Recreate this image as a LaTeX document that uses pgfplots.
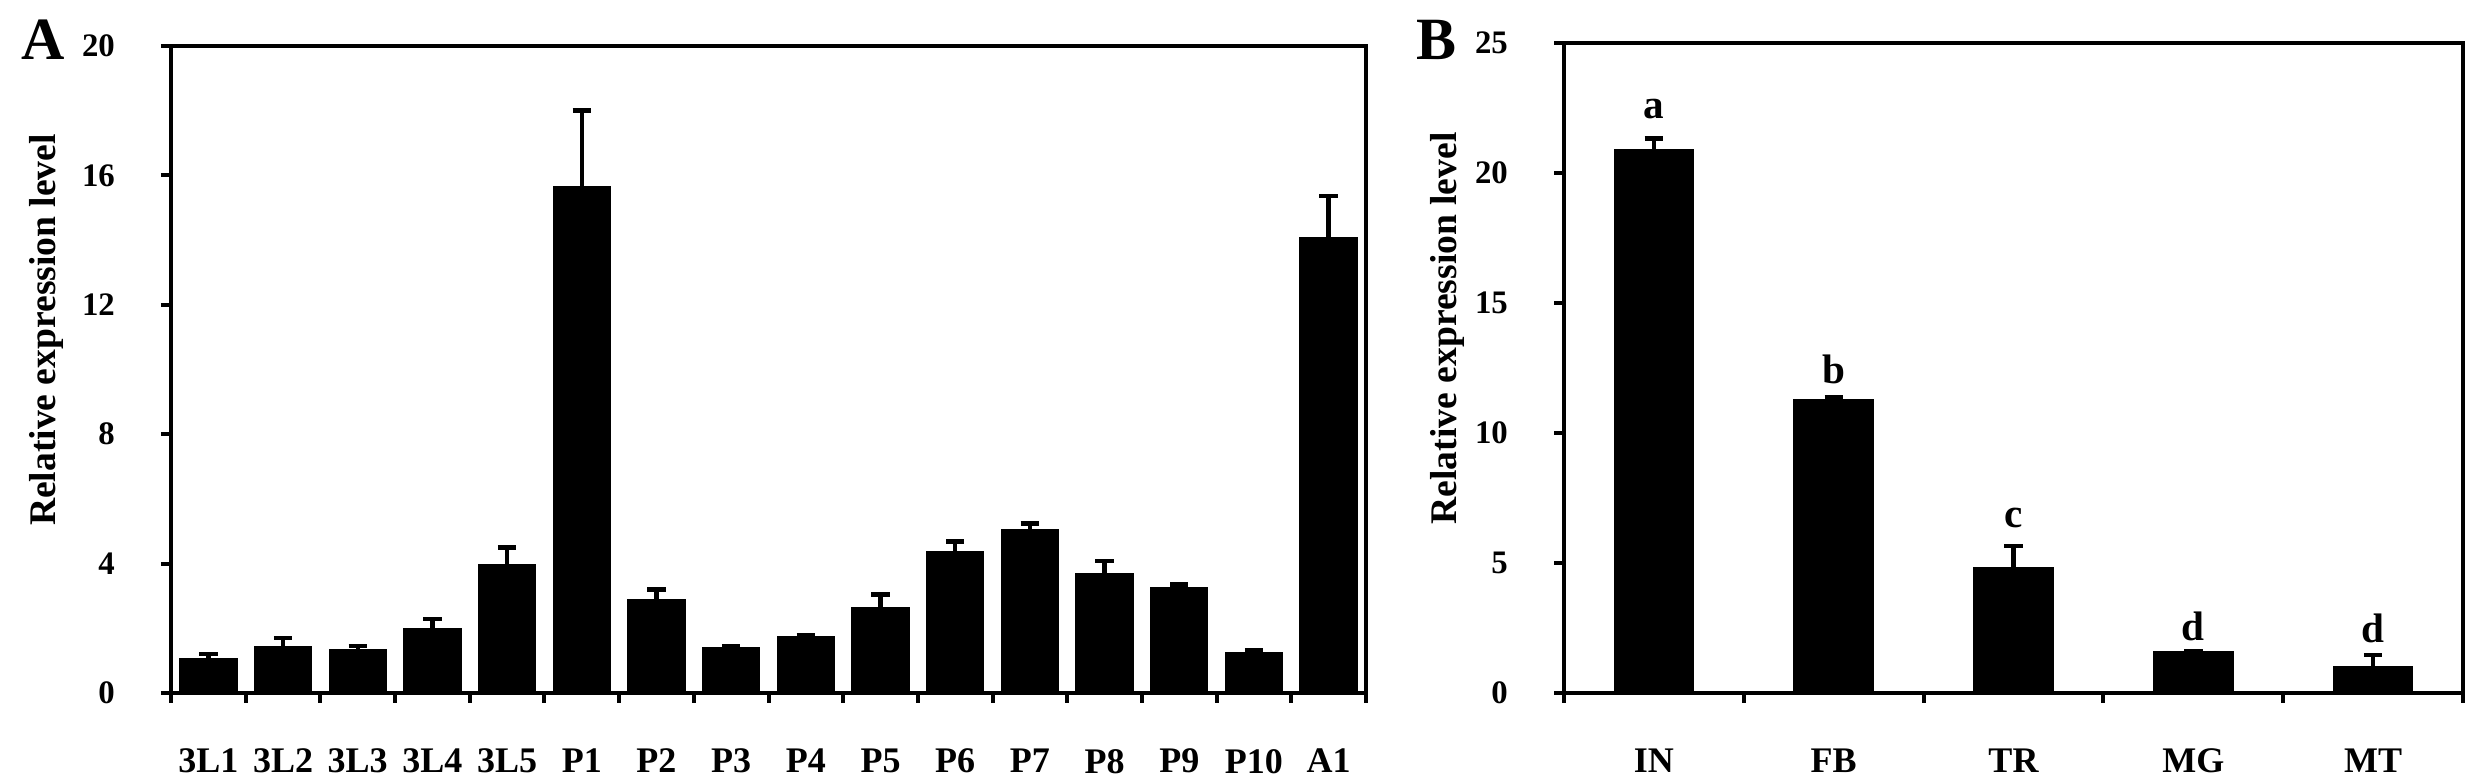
\documentclass[border=0pt]{standalone}
\usepackage{fontspec}
\setmainfont{Liberation Serif}
\usepackage{pgfplots}
\pgfplotsset{compat=1.18}

\pgfplotstableread{
x y e
0 1.05 0.15
1 1.42 0.28
2 1.33 0.12
3 1.97 0.31
4 3.96 0.54
5 15.64 2.36
6 2.88 0.32
7 1.40 0.06
8 1.74 0.05
9 2.63 0.41
10 4.36 0.32
11 5.04 0.20
12 3.70 0.38
13 3.24 0.12
14 1.25 0.06
15 14.08 1.28
}\dataA

\pgfplotstableread{
x y e
0 20.88 0.45
1 11.29 0.08
2 4.80 0.86
3 1.59 0.0
4 1.01 0.45
}\dataB

\pgfplotsset{
 myaxis/.style={
  scale only axis,
  axis line style={line width=1pt},
  tick align=outside,
  tick pos=left,
  major tick length=2.5pt,
  minor tick length=2.5pt,
  tick style={line width=1pt, black},
  major x tick style={draw=none},
  /pgf/number format/assume math mode=true,
  yticklabel style={font=\fontsize{8.2}{9}\selectfont\bfseries, xshift=-8pt},
  xticklabel style={font=\fontsize{9}{10}\selectfont\bfseries, yshift=-8pt},
  ylabel={Relative expression level},
  ymin=0,
  xmin=-0.5,
  clip=false,
 },
 mybar/.style={ybar, fill=black, draw=black, bar width=#1,
   error bars/.cd, y dir=plus, y explicit,
   error bar style={line width=1.1pt, black},
   error mark options={rotate=90, line width=1.1pt, mark size=2.3pt, black}},
}

\begin{document}
\begin{tikzpicture}
\path[use as bounding box] (-42.75pt,-22.25pt) rectangle (579pt,173.25pt);

\begin{axis}[myaxis,
  at={(0,0)}, anchor=south west,
  width=298.75pt, height=161.75pt,
  xmax=15.5, ymax=20,
  ytick={0,4,8,12,16,20},
  xtick={0,...,15},
  xticklabels={3L1,3L2,3L3,3L4,3L5,P1,P2,P3,P4,P5,P6,P7,P8,P9,P10,A1},
  minor xtick={-0.5,0.5,...,15.5},
  every axis y label/.style={at={(axis description cs:-0.104,0.561)}, rotate=90, anchor=center, font=\fontsize{9.4}{11}\selectfont\bfseries},
]
\addplot[mybar=0.76] table[x=x, y=y, y error=e] {\dataA};
\node[font=\fontsize{15}{16}\selectfont\bfseries] at (axis description cs:-0.107,1.009) {A};
\end{axis}

\begin{axis}[myaxis,
  at={(348.25pt,0)}, anchor=south west,
  width=224.75pt, height=162.5pt,
  xmax=4.5, ymax=25,
  ytick={0,5,10,15,20,25},
  xtick={0,...,4},
  xticklabels={IN,FB,TR,MG,MT},
  minor xtick={-0.5,0.5,...,4.5},
  every axis y label/.style={at={(axis description cs:-0.1296,0.561)}, rotate=90, anchor=center, font=\fontsize{9.4}{11}\selectfont\bfseries},
]
\addplot[mybar=0.44] table[x=x, y=y, y error=e] {\dataB};
\addplot[only marks, mark=*, mark size=0pt, mark options={draw opacity=0, fill opacity=0},
  nodes near coords, point meta=explicit symbolic,
  nodes near coords style={anchor=base, inner sep=0pt, opacity=1, text opacity=1, fill opacity=1, text=black, font=\fontsize{10.3}{12}\selectfont\bfseries}]
  coordinates {(0,22.1) [a] (1,11.92) [b] (2,6.35) [c] (3,2.01) [d] (4,1.96) [d]};
\node[font=\fontsize{15}{16}\selectfont\bfseries] at (axis description cs:-0.142,1.005) {B};
\end{axis}
\end{tikzpicture}
\end{document}
